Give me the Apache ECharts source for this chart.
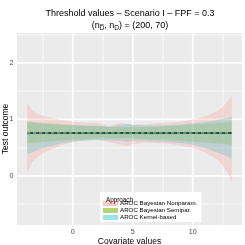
<!DOCTYPE html>
<html><head><meta charset="utf-8">
<script src="https://cdn.jsdelivr.net/npm/echarts@6/dist/echarts.min.js"></script>
<style>html,body{margin:0;padding:0;background:#fff}#c{width:245px;height:245px}</style>
</head><body><div id="c"></div>
<script>
// Covariate grid
var xs = [-3.8, -3.4, -3, -2.5, -2, -1, 0, 1, 2, 3, 4, 4.5, 5, 6, 7, 8, 9, 10, 11, 12, 12.5, 13, 13.25];
// AROC Bayesian Nonparam.
var nonparUpper = [1.30, 1.17, 1.10, 1.06, 1.04, 0.99, 0.96, 0.94, 0.94, 0.88, 0.94, 0.92, 0.90, 0.91, 0.93, 0.94, 0.96, 1.00, 1.05, 1.14, 1.22, 1.35, 1.43];
var nonparLower = [0.05, 0.24, 0.33, 0.40, 0.45, 0.54, 0.60, 0.63, 0.64, 0.60, 0.55, 0.53, 0.56, 0.59, 0.58, 0.57, 0.54, 0.50, 0.42, 0.30, 0.18, 0.02, -0.13];
var nonparEst = [0.76, 0.765, 0.77, 0.77, 0.765, 0.76, 0.76, 0.765, 0.77, 0.765, 0.76, 0.755, 0.76, 0.765, 0.77, 0.765, 0.76, 0.76, 0.765, 0.77, 0.77, 0.765, 0.76];
// AROC Bayesian Semipar.
var semiparUpper = [0.96, 0.955, 0.95, 0.94, 0.93, 0.915, 0.90, 0.885, 0.875, 0.865, 0.86, 0.86, 0.86, 0.865, 0.87, 0.88, 0.89, 0.905, 0.92, 0.935, 0.94, 0.95, 0.955];
var semiparLower = [0.57, 0.58, 0.59, 0.60, 0.61, 0.625, 0.64, 0.65, 0.66, 0.665, 0.665, 0.665, 0.66, 0.655, 0.645, 0.635, 0.62, 0.605, 0.59, 0.575, 0.565, 0.555, 0.55];
var semiparEst = [0.76, 0.76, 0.76, 0.76, 0.76, 0.76, 0.76, 0.76, 0.76, 0.76, 0.76, 0.76, 0.76, 0.76, 0.76, 0.76, 0.76, 0.76, 0.76, 0.76, 0.76, 0.76, 0.76];
// AROC Kernel-based
var kernelUpper = [0.96, 0.95, 0.93, 0.925, 0.92, 0.91, 0.90, 0.89, 0.89, 0.87, 0.90, 0.92, 0.91, 0.89, 0.89, 0.90, 0.91, 0.93, 0.95, 0.99, 1.01, 1.03, 1.05];
var kernelLower = [0.39, 0.42, 0.45, 0.49, 0.52, 0.57, 0.61, 0.62, 0.63, 0.63, 0.62, 0.61, 0.62, 0.62, 0.61, 0.60, 0.58, 0.55, 0.49, 0.42, 0.38, 0.33, 0.31];
var kernelEst = [0.745, 0.745, 0.75, 0.755, 0.755, 0.76, 0.76, 0.76, 0.755, 0.76, 0.76, 0.765, 0.76, 0.755, 0.76, 0.76, 0.755, 0.76, 0.76, 0.76, 0.755, 0.755, 0.755];
// True threshold
var trueValue = [0.76, 0.76, 0.76, 0.76, 0.76, 0.76, 0.76, 0.76, 0.76, 0.76, 0.76, 0.76, 0.76, 0.76, 0.76, 0.76, 0.76, 0.76, 0.76, 0.76, 0.76, 0.76, 0.76];

var names = ['AROC Bayesian Nonparam.', 'AROC Bayesian Semipar.', 'AROC Kernel-based'];
var lineCols = ['#F8766D', '#7CAE00', '#00BFC4'];
var fillCols = ['rgba(248,118,109,0.2)', 'rgba(124,174,0,0.2)', 'rgba(0,191,196,0.2)'];
var legendCols = ['rgba(248,118,109,0.4)', 'rgba(124,174,0,0.55)', 'rgba(0,191,196,0.4)'];
var xMajor = [0, 5, 10], xMinor = [-2.5, 2.5, 7.5, 12.5];
var yMajor = [0, 1, 2], yMinor = [-0.5, 0.5, 1.5, 2.5];

function zip3(a, b, c) { return a.map(function (v, i) { return [v, b[i], c[i]]; }); }
function zip2(a, b) { return a.map(function (v, i) { return [v, b[i]]; }); }

function bandSeries(name, lo, hi, color) {
  return {
    type: 'custom', name: name, z: 2,
    itemStyle: { color: color },
    data: zip3(xs, lo, hi),
    encode: { x: 0, y: [1, 2] },
    renderItem: function (params, api) {
      if (params.dataIndex !== 0) return null;
      var top = [], bot = [];
      for (var i = 0; i < xs.length; i++) {
        top.push(api.coord([xs[i], hi[i]]));
        bot.push(api.coord([xs[i], lo[i]]));
      }
      var pts = top.concat(bot.reverse());
      return { type: 'polygon', shape: { points: pts }, style: { fill: color } };
    }
  };
}
function estSeries(name, vals, color) {
  return { type: 'line', name: name + ' est', data: zip2(xs, vals), showSymbol: false, symbol: 'none', z: 4,
    lineStyle: { color: color, width: 1, type: [3, 3] }, silent: true };
}

var chart = echarts.init(document.getElementById('c'), null, { renderer: 'canvas' });
chart.setOption({
  animation: false,
  textStyle: { fontFamily: 'Liberation Sans' },
  title: [
    { text: 'Threshold values \u2013 Scenario I \u2013 FPF = 0.3', left: 125, textAlign: 'center', top: 4, z: 10,
      textStyle: { fontSize: 9, fontWeight: 'normal', color: '#000', fontFamily: 'Liberation Sans' } },
    { text: '(n{s|D\u0305}, n{s|D}) = (200, 70)', left: 125, textAlign: 'center', top: 15, z: 10,
      textStyle: { fontSize: 9, fontWeight: 'normal', color: '#000', fontFamily: 'Liberation Sans',
        rich: { s: { fontSize: 6.5, verticalAlign: 'bottom', padding: [5, 0, 0, 0], fontFamily: 'Liberation Sans' } } } },
    { text: 'Approach', left: 101, top: 192, z: 10,
      textStyle: { fontSize: 6.3, fontWeight: 'normal', color: '#000', fontFamily: 'Liberation Sans' } }
  ],
  grid: { left: 17, right: 3, top: 33, bottom: 20, show: false, containLabel: false, outerBoundsMode: 'none' },
  legend: {
    data: names.map(function (n, i) { return { name: n, icon: 'rect', itemStyle: { color: legendCols[i] } }; }),
    orient: 'vertical', left: 100, top: 192, padding: [8, 4, 1, 3], itemGap: 0,
    itemWidth: 15, itemHeight: 5, backgroundColor: '#fff',
    textStyle: { fontSize: 6.2, color: '#000', fontFamily: 'Liberation Sans', padding: [0, 0, 0, -3], lineHeight: 7 }
  },
  xAxis: {
    type: 'value', min: -4.65, max: 14.1,
    name: 'Covariate values', nameLocation: 'middle', nameGap: 12, nameMoveOverlap: false,
    nameTextStyle: { fontSize: 8.5, color: '#000' },
    axisLine: { show: false },
    axisTick: { show: true, length: 2.5, lineStyle: { color: '#333', width: 1 }, customValues: xMajor },
    axisLabel: { fontSize: 7.2, color: '#4D4D4D', margin: 3.5, customValues: xMajor },
    splitLine: { show: false }
  },
  yAxis: {
    type: 'value', min: -0.87, max: 2.53,
    name: 'Test outcome', nameLocation: 'middle', nameGap: 7, nameMoveOverlap: false,
    nameTextStyle: { fontSize: 8.5, color: '#000' },
    axisLine: { show: false },
    axisTick: { show: true, length: 2.5, lineStyle: { color: '#333', width: 1 }, customValues: yMajor },
    axisLabel: { fontSize: 7.2, color: '#4D4D4D', margin: 3.5, customValues: yMajor },
    splitLine: { show: false }
  },
  series: [
    { type: 'custom', name: 'panel', z: 1, data: [[0, 0]], clip: false,
      renderItem: function (params, api) {
        var cs = params.coordSys;
        var children = [{ type: 'rect', shape: { x: cs.x, y: cs.y, width: cs.width, height: cs.height },
          style: { fill: '#EBEBEB' } }];
        xMinor.forEach(function (v) {
          var p = api.coord([v, 0]);
          children.push({ type: 'rect', shape: { x: Math.round(p[0]) - 0.5, y: cs.y, width: 1, height: cs.height }, style: { fill: '#FAFAFA' } });
        });
        yMinor.forEach(function (v) {
          var p = api.coord([0, v]);
          children.push({ type: 'rect', shape: { x: cs.x, y: Math.round(p[1]) - 0.5, width: cs.width, height: 1 }, style: { fill: '#FAFAFA' } });
        });
        xMajor.forEach(function (v) {
          var p = api.coord([v, 0]);
          children.push({ type: 'rect', shape: { x: p[0] - 0.9, y: cs.y, width: 1.8, height: cs.height }, style: { fill: '#FFFFFF' } });
        });
        yMajor.forEach(function (v) {
          var p = api.coord([0, v]);
          children.push({ type: 'rect', shape: { x: cs.x, y: p[1] - 0.9, width: cs.width, height: 1.8 }, style: { fill: '#FFFFFF' } });
        });
        return { type: 'group', children: children };
      } },
    bandSeries(names[0], nonparLower, nonparUpper, fillCols[0]),
    bandSeries(names[1], semiparLower, semiparUpper, fillCols[1]),
    bandSeries(names[2], kernelLower, kernelUpper, fillCols[2]),
    { type: 'line', name: 'True', data: zip2(xs, trueValue), showSymbol: false, symbol: 'none', z: 3,
      lineStyle: { color: '#1a1a1a', width: 1.5 }, silent: true },
    estSeries(names[0], nonparEst, lineCols[0]),
    estSeries(names[1], semiparEst, lineCols[1]),
    estSeries(names[2], kernelEst, lineCols[2])
  ]
});
</script></body></html>
